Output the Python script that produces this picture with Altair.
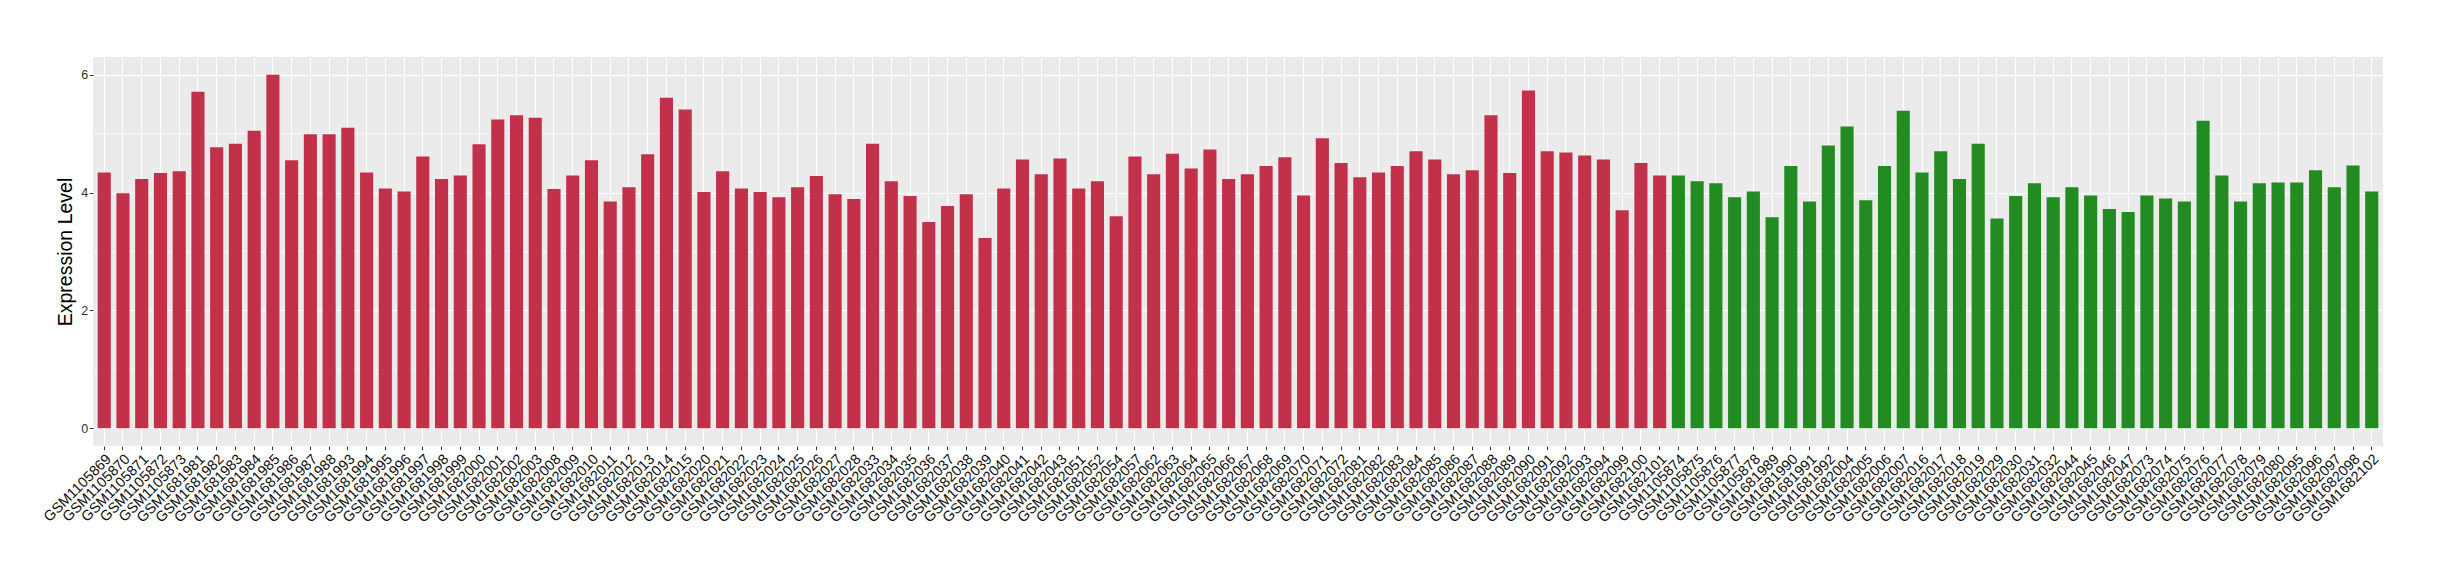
import altair as alt
import pandas as pd

samples = [
    "GSM1105869", "GSM1105870", "GSM1105871", "GSM1105872", "GSM1105873",
    "GSM1681981", "GSM1681982", "GSM1681983", "GSM1681984", "GSM1681985",
    "GSM1681986", "GSM1681987", "GSM1681988", "GSM1681993", "GSM1681994",
    "GSM1681995", "GSM1681996", "GSM1681997", "GSM1681998", "GSM1681999",
    "GSM1682000", "GSM1682001", "GSM1682002", "GSM1682003", "GSM1682008",
    "GSM1682009", "GSM1682010", "GSM1682011", "GSM1682012", "GSM1682013",
    "GSM1682014", "GSM1682015", "GSM1682020", "GSM1682021", "GSM1682022",
    "GSM1682023", "GSM1682024", "GSM1682025", "GSM1682026", "GSM1682027",
    "GSM1682028", "GSM1682033", "GSM1682034", "GSM1682035", "GSM1682036",
    "GSM1682037", "GSM1682038", "GSM1682039", "GSM1682040", "GSM1682041",
    "GSM1682042", "GSM1682043", "GSM1682051", "GSM1682052", "GSM1682054",
    "GSM1682057", "GSM1682062", "GSM1682063", "GSM1682064", "GSM1682065",
    "GSM1682066", "GSM1682067", "GSM1682068", "GSM1682069", "GSM1682070",
    "GSM1682071", "GSM1682072", "GSM1682081", "GSM1682082", "GSM1682083",
    "GSM1682084", "GSM1682085", "GSM1682086", "GSM1682087", "GSM1682088",
    "GSM1682089", "GSM1682090", "GSM1682091", "GSM1682092", "GSM1682093",
    "GSM1682094", "GSM1682099", "GSM1682100", "GSM1682101",
    "GSM1105874", "GSM1105875", "GSM1105876", "GSM1105877", "GSM1105878",
    "GSM1681989", "GSM1681990", "GSM1681991", "GSM1681992", "GSM1682004",
    "GSM1682005", "GSM1682006", "GSM1682007", "GSM1682016", "GSM1682017",
    "GSM1682018", "GSM1682019", "GSM1682029", "GSM1682030", "GSM1682031",
    "GSM1682032", "GSM1682044", "GSM1682045", "GSM1682046", "GSM1682047",
    "GSM1682073", "GSM1682074", "GSM1682075", "GSM1682076", "GSM1682077",
    "GSM1682078", "GSM1682079", "GSM1682080", "GSM1682095", "GSM1682096",
    "GSM1682097", "GSM1682098", "GSM1682102",
]

red_values = [
    4.34, 3.99, 4.23, 4.33, 4.36, 5.71, 4.77, 4.83, 5.05, 6.00,
    4.55, 4.99, 4.99, 5.10, 4.34, 4.07, 4.02, 4.61, 4.23, 4.29,
    4.82, 5.24, 5.31, 5.27, 4.06, 4.29, 4.55, 3.85, 4.09, 4.65,
    5.61, 5.41, 4.01, 4.36, 4.07, 4.01, 3.92, 4.09, 4.28, 3.97,
    3.89, 4.83, 4.19, 3.94, 3.50, 3.77, 3.97, 3.23, 4.07, 4.56,
    4.31, 4.58, 4.07, 4.19, 3.60, 4.61, 4.31, 4.66, 4.41, 4.73,
    4.23, 4.31, 4.45, 4.60, 3.95, 4.92, 4.50, 4.26, 4.34, 4.45,
    4.70, 4.56, 4.31, 4.38, 5.31, 4.33, 5.73, 4.70, 4.68, 4.63,
    4.56, 3.70, 4.50, 4.29,
]

green_values = [
    4.29, 4.19, 4.16, 3.92, 4.02, 3.58, 4.45, 3.85, 4.80, 5.12,
    3.87, 4.45, 5.39, 4.34, 4.70, 4.23, 4.83, 3.56, 3.94, 4.16,
    3.92, 4.09, 3.95, 3.72, 3.67, 3.95, 3.90, 3.85, 5.22, 4.29,
    3.85, 4.16, 4.17, 4.17, 4.38, 4.09, 4.46, 4.02,
]

group_names = ["Group A", "Group B"]
group_colors = ["#C3304A", "#228B22"]
y_ticks = [0, 2, 4, 6]
y_minor = [1, 3, 5]

values = red_values + green_values
groups = [group_names[0]] * len(red_values) + [group_names[1]] * len(green_values)

df = pd.DataFrame({"sample": samples, "value": values, "group": groups})
minor_df = pd.DataFrame({"v": y_minor})

yscale = alt.Scale(domain=[-0.3, 6.3], nice=False, zero=False)

minor = alt.Chart(minor_df).mark_rule(color="white", strokeWidth=0.7).encode(
    y=alt.Y("v:Q", scale=yscale)
)

bars = alt.Chart(df).mark_bar().encode(
    x=alt.X(
        "sample:N",
        sort=samples,
        scale=alt.Scale(paddingInner=0.3, paddingOuter=0.25),
        axis=alt.Axis(
            title=None,
            labelAngle=-45,
            labelAlign="right",
            labelBaseline="top",
            labelFont="Liberation Sans",
            labelFontSize=14.5,
            labelColor="#111111",
            labelPadding=2,
            labelOverlap=False,
            labelLimit=0,
            grid=True,
            gridColor="white",
            gridWidth=1.1,
            domain=False,
            tickColor="#333333",
            tickSize=3.7,
            tickWidth=1,
        ),
    ),
    y=alt.Y(
        "value:Q",
        scale=yscale,
        axis=alt.Axis(
            title="Expression Level",
            values=y_ticks,
            format="d",
            titleFont="Liberation Sans",
            titleFontSize=19.5,
            titleFontWeight="normal",
            titleColor="black",
            titleX=-28,
            titleY=194.5,
            titleBaseline="middle",
            titleAlign="center",
            titleAngle=270,
            labelFont="Liberation Sans",
            labelFontSize=12.5,
            labelColor="#333333",
            labelPadding=1.5,
            grid=True,
            gridColor="white",
            gridWidth=1.2,
            domain=False,
            tickColor="#333333",
            tickSize=3.7,
            tickWidth=1,
        ),
    ),
    y2=alt.datum(0),
    color=alt.Color(
        "group:N",
        scale=alt.Scale(domain=group_names, range=group_colors),
        legend=None,
    ),
)

chart = (
    alt.layer(minor, bars)
    .properties(
        width=2290,
        height=389,
        padding={"left": 85, "top": 49, "right": 49, "bottom": 126},
        autosize=alt.AutoSizeParams(type="none"),
    )
    .configure_view(fill="#EBEBEB", strokeWidth=0)
)

chart.save("out.html", embed_options={"renderer": "svg", "actions": False})
